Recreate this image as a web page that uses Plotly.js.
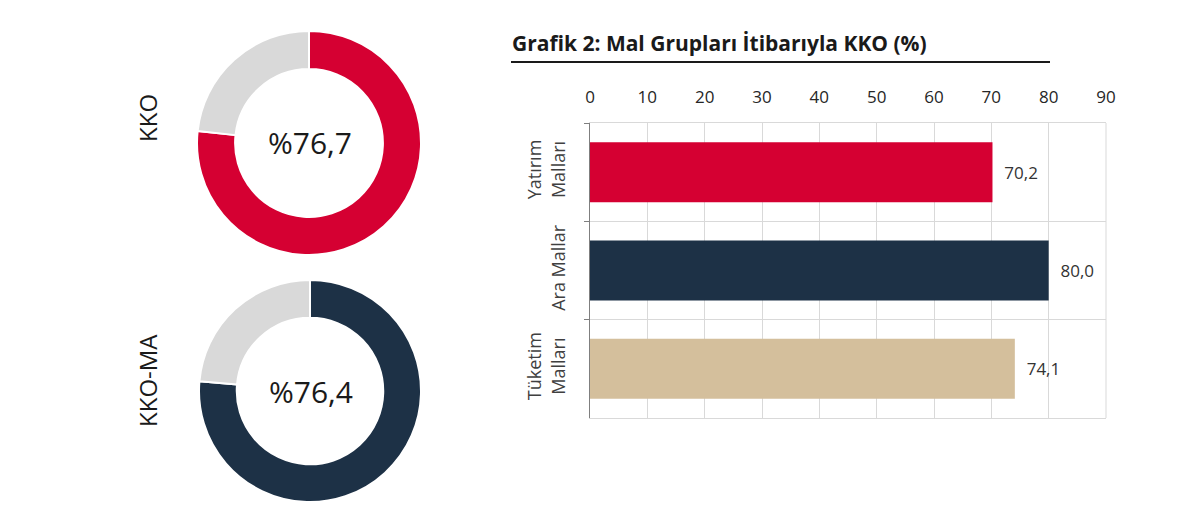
<!DOCTYPE html>
<html>
<head>
<meta charset="utf-8">
<script src="https://cdn.plot.ly/plotly-3.0.1.min.js"></script>
<style>html,body{margin:0;padding:0;background:#fff;}#chart{width:1200px;height:506px;}</style>
</head>
<body>
<div id="chart"></div>
<script>
// Data
const donutNames = ["KKO", "KKO-MA"];
const donutValues = [76.7, 76.4];
const donutColors = ["#d50032", "#1d3146"];
const barCategories = ["Yatırım<br>Malları", "Ara Mallar", "Tüketim<br>Malları"];
const barValues = [70.2, 80.0, 74.1];
const barColors = ["#d50032", "#1d3146", "#d4bf9c"];
const xTicks = [0, 10, 20, 30, 40, 50, 60, 70, 80, 90];
const chartTitle = "Grafik 2: Mal Grupları İtibarıyla KKO (%)";

const W = 1200, H = 506;
const px = x => x / W;
const py = y => 1 - y / H;

const donutBoxes = [
  {x0: 197, x1: 421, y0: 31, y1: 255},
  {x0: 199, x1: 421, y0: 280, y1: 502}
];
const fontFam = "Open Sans, Noto Sans, sans-serif";

const traces = [];
donutValues.forEach((v, i) => {
  const b = donutBoxes[i];
  traces.push({
    type: "pie",
    values: [v, +(100 - v).toFixed(1)],
    labels: [donutNames[i], "rest"],
    marker: {colors: [donutColors[i], "#d9d9d9"], line: {color: "#ffffff", width: 2}},
    hole: 0.66,
    sort: false,
    direction: "clockwise",
    rotation: 0,
    textinfo: "none",
    hoverinfo: "none",
    showlegend: false,
    domain: {x: [px(b.x0), px(b.x1)], y: [py(b.y1), py(b.y0)]}
  });
});

traces.push({
  type: "bar",
  orientation: "h",
  y: barCategories,
  x: barValues,
  marker: {color: barColors},
  text: barValues.map(v => "\u00a0\u00a0" + v.toFixed(1).replace(".", ",")),
  textposition: "outside",
  cliponaxis: false,
  textfont: {family: fontFam, size: 17, color: "#333333"},
  hoverinfo: "none",
  showlegend: false,
  xaxis: "x",
  yaxis: "y"
});

const annotations = [];
donutValues.forEach((v, i) => {
  const b = donutBoxes[i];
  const cx = (b.x0 + b.x1) / 2, cy = (b.y0 + b.y1) / 2;
  annotations.push({
    xref: "paper", yref: "paper", x: px(cx + 1), y: py(cy),
    text: "%" + v.toFixed(1).replace(".", ","), showarrow: false,
    xanchor: "center", yanchor: "middle",
    font: {family: fontFam, size: 30, color: "#1a1a1a"}
  });
  annotations.push({
    xref: "paper", yref: "paper", x: px(147), y: py(i === 0 ? 118 : 381),
    text: donutNames[i], showarrow: false, textangle: -90,
    xanchor: "center", yanchor: "middle",
    font: {family: fontFam, size: 24, color: "#1a1a1a"}
  });
});
annotations.push({
  xref: "paper", yref: "paper", x: px(510), y: py(43),
  text: "<b>" + chartTitle + "</b>", showarrow: false,
  xanchor: "left", yanchor: "middle",
  font: {family: fontFam, size: 21, color: "#1a1a1a"}
});

const layout = {
  width: W, height: H,
  margin: {l: 0, r: 0, t: 0, b: 0},
  paper_bgcolor: "#ffffff", plot_bgcolor: "#ffffff",
  separators: ",.",
  bargap: 0.39,
  xaxis: {
    domain: [px(590), px(1106)],
    range: [0, 90],
    side: "top",
    tickvals: xTicks,
    ticktext: xTicks.map(String),
    showgrid: true, gridcolor: "#d9d9d9", gridwidth: 1,
    zeroline: false,
    showline: true, mirror: true, linecolor: "#d9d9d9", linewidth: 1,
    ticks: "", ticklabelstandoff: 12,
    tickfont: {family: fontFam, size: 17, color: "#262626"},
    fixedrange: true
  },
  yaxis: {
    domain: [py(418), py(123)],
    autorange: "reversed",
    type: "category",
    tickson: "boundaries",
    ticks: "outside", ticklen: 5, tickcolor: "#7f7f7f",
    showgrid: true, gridcolor: "#d9d9d9", gridwidth: 1,
    showline: true, linecolor: "#7f7f7f", linewidth: 1,
    tickangle: -90,
    ticklabelstandoff: 17,
    tickfont: {family: fontFam, size: 18, color: "#404040"},
    fixedrange: true
  },
  shapes: [
    {type: "line", xref: "paper", yref: "paper", x0: px(511), x1: px(1050), y0: py(62), y1: py(62),
     line: {color: "#1a1a1a", width: 2}},
    {type: "line", xref: "paper", yref: "paper", x0: px(1106), x1: px(1106), y0: py(123), y1: py(418),
     line: {color: "#d9d9d9", width: 1}}
  ],
  annotations: annotations
};

Plotly.newPlot("chart", traces, layout, {displayModeBar: false, staticPlot: true});
</script>
</body>
</html>
